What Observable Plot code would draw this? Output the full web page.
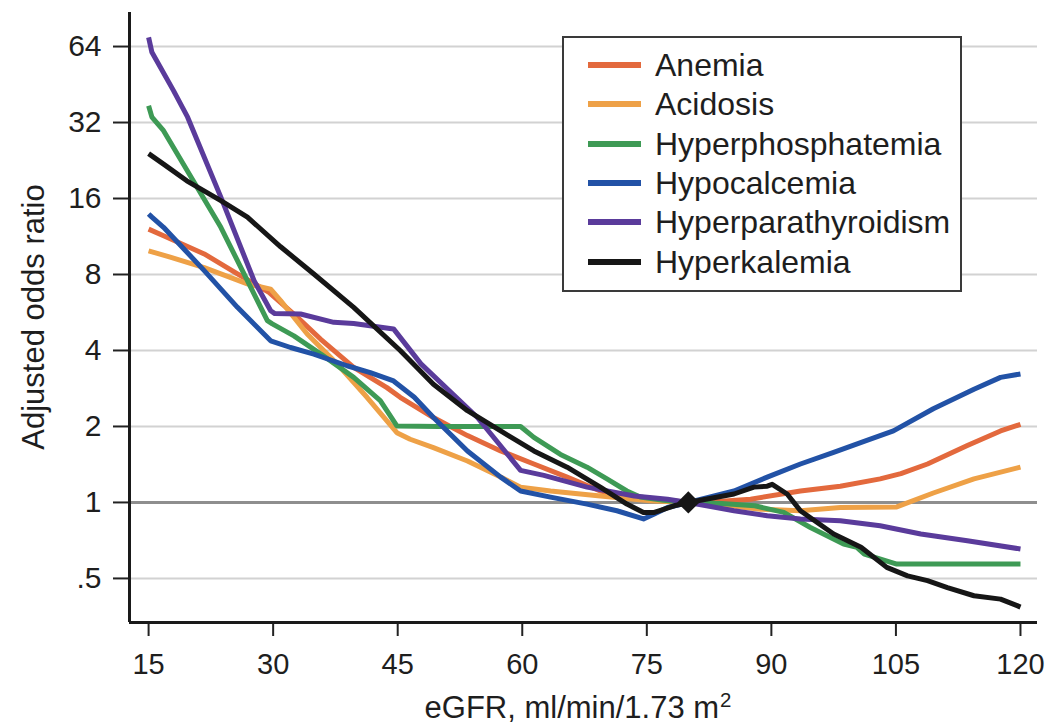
<!DOCTYPE html>
<html>
<head>
<meta charset="utf-8">
<script src="https://cdn.jsdelivr.net/npm/d3@7"></script>
<script src="https://cdn.jsdelivr.net/npm/@observablehq/plot@0.6"></script>
<style>
  html, body { margin: 0; padding: 0; background: #fff; }
  body { font-family: "Liberation Sans", Arial, Helvetica, sans-serif; color: #1e1e1e; }
  #wrap { position: relative; width: 1053px; height: 727px; overflow: hidden; }
  #ytitle { position: absolute; left: 33px; top: 317px; transform: translate(-50%, -50%) rotate(-90deg);
            white-space: nowrap; font-size: 31px; line-height: 1; }
  #xtitle { position: absolute; left: 578px; top: 692px; transform: translateX(-50%);
            white-space: nowrap; font-size: 31px; line-height: 31px; }
  #xtitle .sup { font-size: 0.66em; position: relative; top: -0.55em; margin-left: 1px; }
  #legend { position: absolute; left: 562px; top: 36px; width: 400px; height: 256px;
            box-sizing: border-box; border: 2px solid #3a3a3a; background: #fff; }
  .row { position: absolute; left: 0; height: 36px; }
  .sw { position: absolute; left: 24px; width: 53px; height: 6px; }
  .lab { position: absolute; left: 91px; font-size: 32px; line-height: 36px; white-space: nowrap; top: 0; }
</style>
</head>
<body>
<div id="wrap">
  <div id="chart"></div>
  <div id="ytitle">Adjusted odds ratio</div>
  <div id="xtitle">eGFR, ml/min/1.73 m<span class="sup">2</span></div>
  <div id="legend"></div>
</div>
<script>
// ---- tick values / labels ----
const xTicks = [15, 30, 45, 60, 75, 90, 105, 120];
const yTicks = [0.5, 1, 2, 4, 8, 16, 32, 64];
const yTickLabels = [".5", "1", "2", "4", "8", "16", "32", "64"];
const xDomain = [12.7, 122.05];
const yDomain = [0.3345, 87.3];

// ---- series names / colours ----
const seriesNames = ["Anemia", "Acidosis", "Hyperphosphatemia", "Hypocalcemia", "Hyperparathyroidism", "Hyperkalemia"];
const seriesColors = ["#e3693d", "#eea147", "#3e9a55", "#2252a6", "#5a3b9b", "#161616"];

// ---- reference point ----
const refPoint = [[80, 1]];

// ---- series values [eGFR, adjusted odds ratio] ----
const anemia = [[15,12.1],[16.8,11.4],[21.7,9.65],[25.7,8.05],[29.5,6.8],[32.9,5.42],[35.7,4.44],[39.7,3.43],[43.7,2.85],[45.3,2.61],[49.3,2.17],[53.4,1.84],[57.4,1.60],[61.4,1.42],[65.4,1.26],[69.4,1.11],[73.5,1.05],[77.5,1.02],[80,1],[84,1.01],[87.5,1.03],[93.5,1.11],[98.3,1.16],[103.1,1.24],[105.6,1.30],[108.8,1.42],[113.6,1.68],[117.6,1.92],[120,2.04]];
const acidosis = [[15,9.93],[17.6,9.37],[21.7,8.52],[26.9,7.34],[29.7,7.0],[30.9,6.3],[34.1,4.65],[37.7,3.54],[41.3,2.61],[44.9,1.89],[46.5,1.78],[49.3,1.65],[53.4,1.46],[57.4,1.26],[59.8,1.15],[63.4,1.11],[69.4,1.06],[75.4,1.015],[80,1],[85,0.97],[88.7,0.94],[93.5,0.927],[98.3,0.955],[105.1,0.96],[109.5,1.09],[114.4,1.24],[120,1.38]];
const hyperphosphatemia = [[15,37.3],[15.4,33.6],[16.8,29.7],[23.7,12.3],[29.3,5.25],[29.9,5.1],[32.5,4.57],[35.7,3.88],[39.7,3.13],[42.9,2.53],[44.9,2.01],[50,2],[55,2],[59.8,2],[61.4,1.81],[64.6,1.55],[67.8,1.38],[70.2,1.24],[72.6,1.11],[74.2,1.05],[77,1.02],[80,1],[84,0.99],[88,0.97],[91.5,0.913],[94.7,0.796],[98.7,0.684],[100.3,0.664],[101.2,0.624],[105.1,0.57],[120,0.57]];
const hypocalcemia = [[15,13.9],[15.4,13.5],[16.8,12.3],[21.7,8.29],[25.7,5.93],[29.7,4.37],[32.1,4.11],[34.9,3.87],[38.9,3.48],[41.7,3.27],[44.5,3.03],[47,2.61],[49.3,2.17],[53.4,1.60],[57.4,1.26],[59.8,1.11],[63.4,1.05],[67.8,0.985],[71.4,0.927],[74.6,0.86],[75.9,0.90],[77.5,0.955],[80,1],[85.5,1.11],[89.5,1.26],[93.5,1.42],[97.5,1.58],[101.5,1.76],[104.7,1.92],[109.5,2.35],[114.4,2.81],[117.6,3.13],[120,3.23]];
const hyperparathyroidism = [[15,69.6],[15.4,60.7],[18,42.8],[19.7,33.6],[23.7,16.2],[27.7,7.56],[29.7,5.75],[30.2,5.6],[33.3,5.58],[37.3,5.17],[39.7,5.12],[44.5,4.87],[47.8,3.54],[54.6,2.17],[59.8,1.34],[62.6,1.28],[67.8,1.15],[73.5,1.06],[77.5,1.03],[80,1],[85.5,0.927],[89.5,0.886],[93.5,0.86],[98.3,0.846],[103.1,0.808],[108,0.75],[113.6,0.705],[120,0.654]];
const hyperkalemia = [[15,24.1],[16.8,21.9],[19.6,18.8],[23.7,15.7],[26.9,13.5],[30.9,10.3],[34.9,8.04],[39.7,5.93],[45.3,4.0],[49.3,2.94],[53.4,2.31],[57.4,1.92],[61.4,1.60],[65.4,1.38],[69.4,1.15],[72.6,0.985],[74.6,0.913],[75.9,0.913],[78.3,0.97],[80,1],[85.5,1.08],[87.9,1.15],[89.5,1.16],[90.1,1.18],[91.9,1.08],[93.5,0.927],[97.5,0.75],[100.8,0.664],[103.9,0.553],[106.4,0.512],[108.8,0.49],[111.2,0.46],[114.4,0.427],[117.6,0.414],[119.6,0.39],[120,0.385]];

const seriesData = [anemia, acidosis, hyperphosphatemia, hypocalcemia, hyperparathyroidism, hyperkalemia];

const lineMarks = seriesData.map((d, i) =>
  Plot.line(d, {x: p => p[0], y: p => p[1], stroke: seriesColors[i], strokeWidth: 5,
                strokeLinejoin: "round", strokeLinecap: "butt"})
);

const chart = Plot.plot({
  width: 1053,
  height: 727,
  marginTop: 12,
  marginRight: 16,
  marginBottom: 105,
  marginLeft: 129,
  style: {fontFamily: '"Liberation Sans", Arial, Helvetica, sans-serif', background: "#fff", color: "#1e1e1e"},
  x: {domain: xDomain},
  y: {type: "log", base: 2, domain: yDomain},
  marks: [
    Plot.ruleY(yTicks.filter(t => t !== 1), {stroke: "#d2d2d2", strokeWidth: 2}),
    Plot.ruleY([1], {stroke: "#8e8e8e", strokeWidth: 3}),
    Plot.axisX({ticks: xTicks, tickSize: 14, tickPadding: 17, fontSize: 29, label: null,
                tickFormat: d => String(d), strokeWidth: 2, stroke: "#222"}),
    Plot.axisY({ticks: yTicks, tickSize: 16, tickPadding: 12, fontSize: 30, label: null,
                tickFormat: d => yTickLabels[yTicks.indexOf(d)], strokeWidth: 2, stroke: "#222"}),
    ...lineMarks,
    Plot.dot(refPoint, {x: p => p[0], y: p => p[1], symbol: "diamond2", r: 10, fill: "#161616", stroke: "none"}),
    Plot.ruleX([xDomain[0]], {stroke: "#1a1a1a", strokeWidth: 3}),
    Plot.ruleY([yDomain[0]], {stroke: "#1a1a1a", strokeWidth: 3})
  ]
});
document.getElementById("chart").appendChild(chart);

// ---- legend ----
const legend = document.getElementById("legend");
seriesNames.forEach((name, i) => {
  const row = document.createElement("div");
  row.className = "row";
  const centre = 27 + i * 39.3; // relative to legend box top
  row.style.top = (centre - 18) + "px";
  row.style.width = "100%";
  const sw = document.createElement("div");
  sw.className = "sw";
  sw.style.background = seriesColors[i];
  sw.style.top = "15px";
  const lab = document.createElement("div");
  lab.className = "lab";
  lab.textContent = name;
  row.appendChild(sw);
  row.appendChild(lab);
  legend.appendChild(row);
});
</script>
</body>
</html>
